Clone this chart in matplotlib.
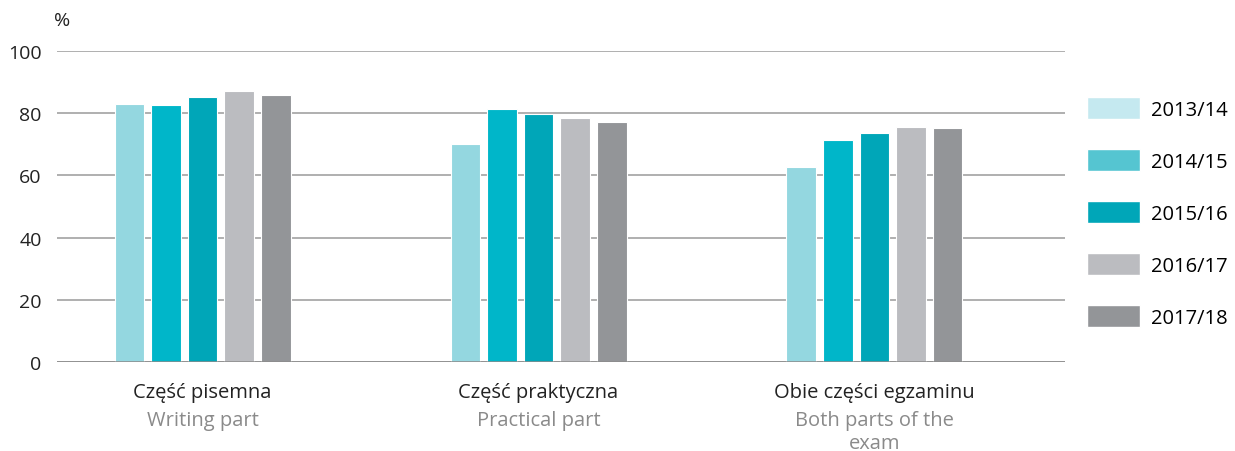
import numpy as np
import matplotlib.pyplot as plt
from matplotlib.patches import Patch

plt.rcParams['font.family'] = ['Open Sans', 'DejaVu Sans']

# data
categories_pl = ['Część pisemna', 'Część praktyczna', 'Obie części egzaminu']
categories_en = ['Writing part', 'Practical part', 'Both parts of the\nexam']
years = ['2013/14', '2014/15', '2015/16', '2016/17', '2017/18']
values = [
    [83.0, 70.2, 62.7],
    [82.5, 81.2, 71.3],
    [85.2, 79.8, 73.6],
    [87.0, 78.3, 75.6],
    [86.0, 77.1, 75.1],
]
bar_colors = ['#94d7e0', '#00b6c9', '#00a6b8', '#bbbcc0', '#939598']
legend_colors = ['#c5e9f0', '#55c5d1', '#00a6b8', '#bbbcc0', '#939598']

fig = plt.figure(figsize=(12.35, 4.52), dpi=100)
ax = fig.add_axes([0.046, 0.197, 0.816, 0.688])

x = np.arange(len(categories_pl))
step = 0.109
width = 0.088
for i, yr in enumerate(years):
    ax.bar(x + (i - 2) * step, values[i], width, color=bar_colors[i],
           edgecolor='white', linewidth=0.8, zorder=3)

ax.set_ylim(0, 100)
ax.set_xlim(-0.434, 2.566)
ax.set_yticks(range(0, 101, 20))
ax.yaxis.grid(True, color='#9a9a9a', linewidth=1.1, zorder=0)
ax.tick_params(axis='y', length=0, labelsize=14, pad=11, colors='#222222')
ax.tick_params(axis='x', length=0, labelbottom=False)
for s in ax.spines.values():
    s.set_visible(False)
ax.axhline(0, color='#8a8a8a', linewidth=1.1, zorder=4)

ax.text(-0.003, 1.07, '%', transform=ax.transAxes, fontsize=14, color='#222222',
        ha='left', va='bottom')

for xi, pl, en in zip(x, categories_pl, categories_en):
    ax.text(xi, -6.6, pl, ha='center', va='top', fontsize=14.5, color='#222222')
    ax.text(xi, -15.4, en, ha='center', va='top', fontsize=14.5, color='#8a8a8a',
            linespacing=1.2)

handles = [Patch(facecolor=c, edgecolor='white') for c in legend_colors]
fig.legend(handles, years, loc='upper left', bbox_to_anchor=(0.874, 0.80),
           frameon=False, fontsize=14.5, handlelength=2.6, handleheight=1.3,
           labelspacing=1.45, handletextpad=0.55, borderaxespad=0)

fig.savefig('out.png', dpi=100)
